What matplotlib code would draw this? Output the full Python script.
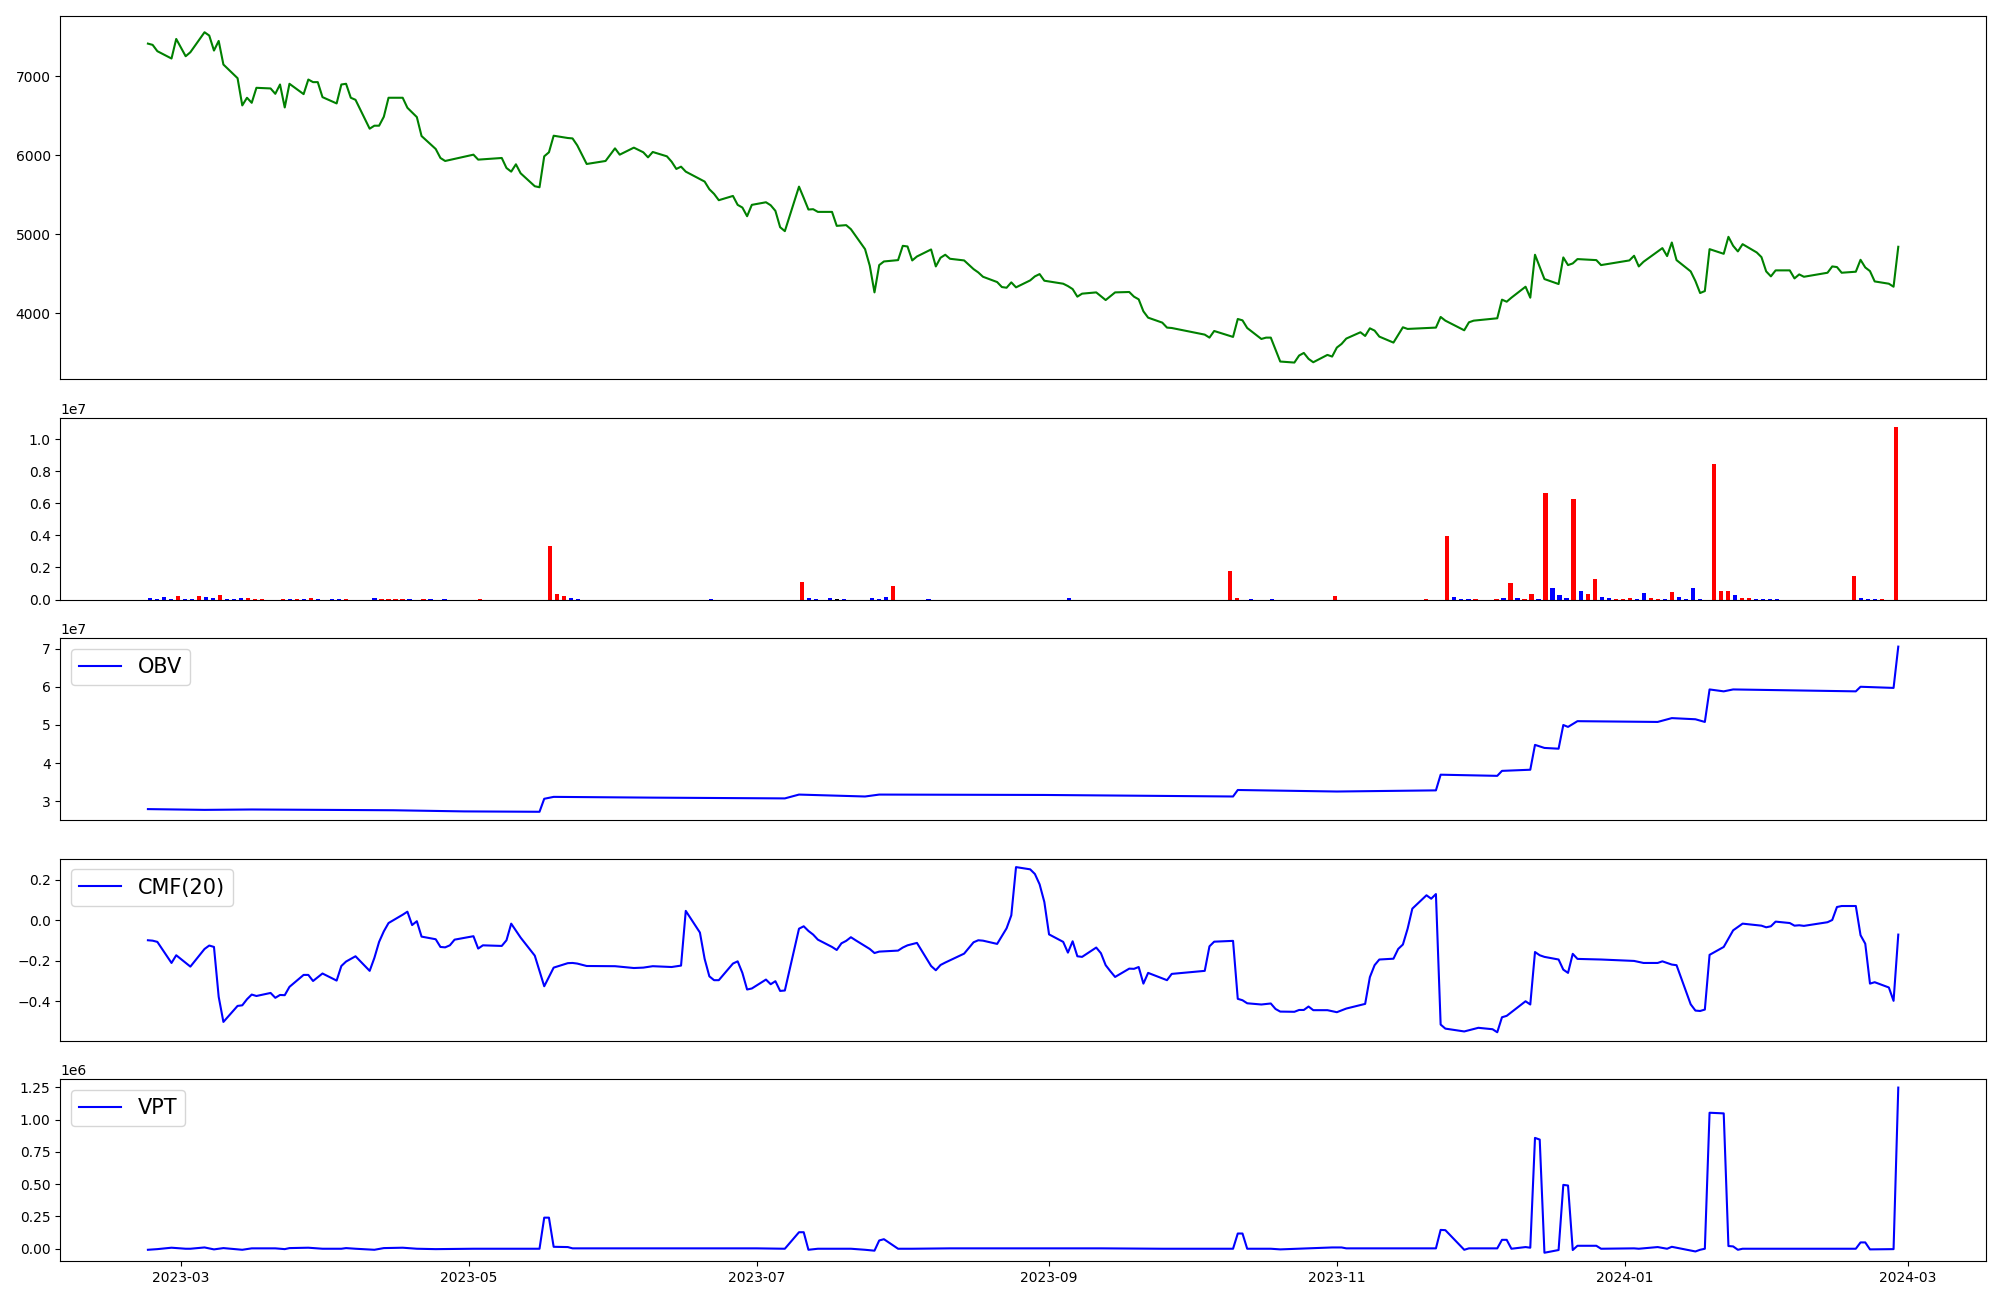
import matplotlib.pyplot as plt
import pandas as pd

base = pd.Timestamp('2023-03-01')

# closing price, calendar days counted from 2023-03-01
price_day = [-7, -6, -5, -2, -1, 1, 2, 5, 6, 7, 8, 9, 12, 13, 14, 15, 16, 19, 20, 21, 22, 23, 26, 27, 28, 29, 30,
             33, 34, 35, 36, 37, 40, 41, 42, 43, 44, 47, 48, 50, 51, 54, 55, 56, 62, 63, 68, 69, 70, 71, 72, 75, 76,
             77, 78, 79, 82, 83, 84, 86, 90, 92, 93, 96, 98, 99, 100, 103, 104, 105, 106, 107, 111, 112, 113, 114,
             117, 118, 119, 120, 121, 124, 125, 126, 127, 128, 131, 132, 133, 134, 135, 138, 139, 141, 142, 145,
             146, 147, 148, 149, 152, 153, 154, 155, 156, 159, 160, 161, 162, 163, 166, 167, 168, 169, 170, 173,
             174, 175, 176, 177, 180, 181, 182, 183, 187, 188, 189, 190, 191, 194, 196, 198, 201, 202, 203, 204,
             205, 208, 209, 210, 217, 218, 219, 223, 224, 225, 226, 229, 230, 231, 233, 236, 237, 238, 239, 240,
             243, 244, 245, 246, 247, 250, 251, 252, 253, 254, 257, 259, 260, 266, 267, 268, 272, 273, 274, 279,
             280, 281, 282, 285, 286, 287, 289, 292, 293, 294, 295, 296, 300, 301, 307, 308, 309, 310, 314, 315,
             316, 317, 320, 321, 322, 323, 324, 327, 328, 329, 330, 331, 334, 335, 336, 337, 338, 341, 342, 343,
             344, 349, 350, 351, 352, 355, 356, 357, 358, 359, 362, 363, 364]
price = [7416, 7400, 7320, 7227, 7475, 7256, 7307, 7560, 7518, 7328, 7450, 7151, 6978, 6633, 6730, 6666, 6856,
         6848, 6780, 6898, 6607, 6907, 6776, 6961, 6928, 6928, 6738, 6658, 6898, 6907, 6730, 6704, 6338, 6376,
         6376, 6489, 6730, 6730, 6603, 6485, 6245, 6081, 5967, 5929, 6009, 5946, 5967, 5840, 5794, 5887, 5773,
         5609, 5596, 5988, 6039, 6249, 6220, 6215, 6127, 5891, 5929, 6089, 6009, 6098, 6039, 5975, 6043, 5988,
         5920, 5828, 5857, 5794, 5668, 5571, 5512, 5432, 5486, 5373, 5339, 5229, 5373, 5406, 5368, 5297, 5090,
         5040, 5604, 5461, 5314, 5318, 5284, 5284, 5107, 5116, 5065, 4812, 4602, 4264, 4610, 4656, 4673, 4854,
         4846, 4669, 4719, 4808, 4593, 4703, 4741, 4690, 4669, 4614, 4559, 4517, 4462, 4395, 4332, 4323, 4391,
         4328, 4416, 4467, 4496, 4412, 4374, 4344, 4306, 4210, 4248, 4264, 4167, 4264, 4269, 4210, 4176, 4024,
         3944, 3881, 3818, 3813, 3729, 3691, 3775, 3700, 3927, 3910, 3813, 3674, 3691, 3691, 3388, 3375, 3464,
         3497, 3422, 3379, 3472, 3451, 3565, 3611, 3679, 3759, 3712, 3809, 3780, 3704, 3628, 3822, 3801, 3818,
         3953, 3906, 3784, 3885, 3906, 3936, 4172, 4146, 4197, 4336, 4197, 4741, 4433, 4370, 4707, 4610, 4631,
         4686, 4673, 4610, 4669, 4728, 4593, 4652, 4825, 4724, 4896, 4673, 4530, 4408, 4256, 4281, 4812, 4753,
         4968, 4854, 4783, 4875, 4770, 4711, 4530, 4467, 4543, 4543, 4441, 4492, 4462, 4513, 4593, 4585, 4513,
         4526, 4677, 4580, 4534, 4403, 4374, 4336, 4842]

# volume bars by trading-day index (0..249), only the non-zero ones
vol_pos = [0, 1, 2, 3, 4, 5, 6, 7, 8, 9, 10, 11, 12, 13, 14, 15, 16, 19, 20, 21, 22, 23, 24, 26, 27, 28, 32, 33,
           34, 35, 36, 37, 39, 40, 42, 47, 57, 58, 59, 60, 61, 80, 93, 94, 95, 97, 98, 99, 103, 104, 105, 106, 111,
           131, 154, 155, 157, 160, 169, 182, 185, 186, 187, 188, 189, 192, 193, 194, 195, 196, 197, 198, 199, 200,
           201, 202, 203, 204, 205, 206, 207, 208, 209, 210, 211, 212, 213, 214, 215, 216, 217, 218, 219, 220, 221,
           223, 224, 225, 226, 227, 228, 229, 230, 231, 232, 243, 244, 245, 246, 247, 249]
vol = [124e3, 62e3, 187e3, 62e3, 207e3, 62e3, 62e3, 207e3, 187e3, 83e3, 269e3, 62e3, 62e3, 124e3, 124e3, 62e3,
       62e3, 62e3, 62e3, 62e3, 62e3, 124e3, 62e3, 62e3, 62e3, 62e3, 124e3, 62e3, 62e3, 62e3, 62e3, 62e3, 62e3,
       62e3, 62e3, 62e3, 3.316e6, 332e3, 207e3, 124e3, 62e3, 62e3, 1.078e6, 124e3, 62e3, 124e3, 62e3, 62e3,
       124e3, 62e3, 187e3, 829e3, 62e3, 124e3, 1.762e6, 124e3, 62e3, 62e3, 249e3, 62e3, 3.938e6, 187e3, 62e3,
       62e3, 62e3, 62e3, 124e3, 1.016e6, 124e3, 62e3, 332e3, 62e3, 6.611e6, 705e3, 269e3, 124e3, 6.238e6, 518e3,
       332e3, 1.264e6, 187e3, 124e3, 62e3, 62e3, 124e3, 62e3, 394e3, 124e3, 62e3, 62e3, 456e3, 187e3, 62e3,
       705e3, 62e3, 8.414e6, 518e3, 518e3, 269e3, 124e3, 124e3, 62e3, 62e3, 62e3, 62e3, 1.451e6, 124e3, 62e3,
       62e3, 62e3, 10.777e6]
vol_col = ['b', 'b', 'b', 'b', 'r', 'b', 'b', 'r', 'b', 'b', 'r', 'b', 'b', 'b', 'r', 'r', 'r', 'r', 'b', 'r', 'b',
           'r', 'b', 'b', 'b', 'r', 'b', 'r', 'r', 'r', 'r', 'b', 'r', 'b', 'b', 'r', 'r', 'r', 'r', 'b', 'b', 'b',
           'r', 'b', 'b', 'b', 'k', 'b', 'b', 'b', 'b', 'r', 'b', 'b', 'r', 'r', 'b', 'b', 'r', 'r', 'r', 'b', 'b',
           'b', 'r', 'r', 'b', 'r', 'b', 'r', 'r', 'b', 'r', 'b', 'b', 'b', 'r', 'b', 'r', 'r', 'b', 'b', 'r', 'r',
           'r', 'b', 'b', 'r', 'r', 'b', 'r', 'b', 'b', 'b', 'b', 'r', 'r', 'r', 'b', 'r', 'r', 'b', 'b', 'b', 'b',
           'r', 'b', 'b', 'b', 'r', 'r']
colour = {'r': 'red', 'b': 'blue', 'k': 'black'}

# on-balance volume (units of 1e7)
obv_day = [-7, 5, 15, 30, 45, 60, 76, 77, 79, 100, 128, 131, 145, 148, 183, 223, 224, 245, 266, 267, 279, 280, 286,
           287, 289, 292, 293, 294, 296, 313, 316, 321, 323, 324, 327, 329, 355, 356, 363, 364]
obv = [2.80, 2.78, 2.79, 2.78, 2.77, 2.74, 2.73, 3.07, 3.12, 3.10, 3.08, 3.18, 3.13, 3.18, 3.17, 3.13, 3.30, 3.26,
       3.29, 3.70, 3.67, 3.80, 3.83, 4.48, 4.40, 4.38, 5.00, 4.95, 5.10, 5.08, 5.18, 5.15, 5.08, 5.93, 5.88, 5.93,
       5.88, 6.00, 5.97, 7.05]

# Chaikin money flow, 20 days
cmf_day = [-7, -6, -5, -2, -1, 2, 5, 6, 7, 8, 9, 12, 13, 14, 15, 16, 19, 20, 21, 22, 23, 26, 27, 28, 30, 33, 34, 35,
           37, 40, 41, 42, 43, 44, 47, 48, 49, 50, 51, 54, 55, 56, 57, 58, 62, 63, 64, 68, 69, 70, 72, 75, 77, 79,
           82, 83, 84, 86, 92, 96, 98, 100, 104, 106, 107, 110, 111, 112, 113, 114, 117, 118, 119, 120, 121, 124,
           125, 126, 127, 128, 131, 132, 133, 134, 135, 138, 139, 140, 141, 142, 143, 146, 147, 148, 152, 153, 154,
           156, 159, 160, 161, 162, 166, 168, 169, 170, 173, 174, 175, 176, 177, 180, 181, 182, 183, 184, 187, 188,
           189, 190, 191, 194, 195, 196, 197, 198, 201, 202, 203, 204, 205, 209, 210, 217, 218, 219, 223, 224, 225,
           226, 229, 231, 232, 233, 236, 237, 238, 239, 240, 243, 245, 247, 251, 252, 253, 254, 257, 258, 259, 260,
           261, 264, 265, 266, 267, 268, 272, 275, 278, 279, 280, 281, 285, 286, 287, 288, 289, 292, 293, 294, 295,
           296, 301, 308, 310, 313, 314, 316, 317, 320, 321, 322, 323, 324, 327, 329, 331, 335, 336, 337, 338, 341,
           342, 343, 344, 349, 350, 351, 352, 355, 356, 357, 358, 359, 362, 363, 364]
cmf = [-0.099, -0.101, -0.107, -0.211, -0.173, -0.229, -0.142, -0.125, -0.132, -0.378, -0.502, -0.423, -0.420,
       -0.390, -0.367, -0.374, -0.359, -0.383, -0.369, -0.370, -0.329, -0.270, -0.270, -0.300, -0.263, -0.298,
       -0.226, -0.204, -0.178, -0.250, -0.186, -0.107, -0.055, -0.014, 0.027, 0.042, -0.024, -0.005, -0.081,
       -0.094, -0.132, -0.134, -0.124, -0.096, -0.079, -0.140, -0.124, -0.127, -0.099, -0.017, -0.086, -0.175,
       -0.326, -0.234, -0.212, -0.211, -0.214, -0.226, -0.227, -0.236, -0.234, -0.227, -0.231, -0.224, 0.046,
       -0.061, -0.191, -0.277, -0.296, -0.296, -0.214, -0.203, -0.260, -0.342, -0.337, -0.293, -0.316, -0.301,
       -0.349, -0.347, -0.042, -0.030, -0.053, -0.071, -0.096, -0.132, -0.147, -0.114, -0.102, -0.084, -0.099,
       -0.142, -0.162, -0.155, -0.150, -0.135, -0.124, -0.112, -0.226, -0.247, -0.221, -0.209, -0.165, -0.109,
       -0.099, -0.101, -0.117, -0.079, -0.040, 0.024, 0.262, 0.251, 0.228, 0.177, 0.090, -0.070, -0.107, -0.160,
       -0.104, -0.178, -0.181, -0.135, -0.163, -0.222, -0.252, -0.280, -0.239, -0.240, -0.231, -0.313, -0.260,
       -0.296, -0.265, -0.250, -0.129, -0.106, -0.102, -0.388, -0.395, -0.410, -0.416, -0.411, -0.438, -0.451,
       -0.452, -0.443, -0.443, -0.426, -0.444, -0.444, -0.454, -0.436, -0.413, -0.281, -0.222, -0.194, -0.190,
       -0.142, -0.120, -0.042, 0.057, 0.123, 0.106, 0.129, -0.515, -0.535, -0.549, -0.531, -0.538, -0.553, -0.479,
       -0.472, -0.400, -0.416, -0.157, -0.173, -0.181, -0.194, -0.244, -0.260, -0.166, -0.191, -0.194, -0.201,
       -0.211, -0.211, -0.203, -0.219, -0.222, -0.415, -0.446, -0.448, -0.441, -0.171, -0.132, -0.050, -0.017,
       -0.027, -0.035, -0.030, -0.007, -0.014, -0.027, -0.025, -0.028, -0.010, 0.001, 0.065, 0.070, 0.070,
       -0.074, -0.116, -0.313, -0.306, -0.332, -0.398, -0.071]

# volume price trend
vpt_day = [-7, -5, -2, 1, 2, 5, 7, 9, 13, 15, 20, 22, 23, 27, 30, 34, 35, 37, 41, 43, 47, 50, 54, 62, 68, 76, 77,
           78, 79, 82, 83, 95, 109, 122, 128, 131, 132, 133, 135, 142, 145, 147, 148, 149, 152, 155, 163, 176, 185,
           195, 208, 223, 224, 225, 226, 231, 233, 244, 246, 247, 260, 266, 267, 268, 272, 273, 279, 280, 281, 282,
           285, 286, 287, 288, 289, 292, 293, 294, 295, 296, 300, 301, 308, 309, 313, 315, 316, 321, 322, 323, 324,
           327, 328, 329, 330, 331, 338, 355, 356, 357, 358, 363, 364]
vpt = [-8e3, -3e3, 8e3, 0, 0, 10e3, -5e3, 5e3, -8e3, 3e3, 3e3, -3e3, 5e3, 8e3, 0, 0, 5e3, 0, -8e3, 5e3, 8e3, 0,
       -3e3, 0, 0, 0, 241e3, 241e3, 15e3, 13e3, 3e3, 3e3, 3e3, 3e3, 0, 128e3, 128e3, -8e3, 0, 0, -8e3, -15e3,
       64e3, 74e3, 0, 0, 3e3, 3e3, 3e3, 3e3, 0, 0, 118e3, 118e3, 0, 0, -5e3, 10e3, 10e3, 3e3, 3e3, 3e3, 146e3,
       144e3, -8e3, 3e3, 3e3, 69e3, 69e3, 0, 13e3, 8e3, 859e3, 846e3, -31e3, -10e3, 495e3, 490e3, -10e3, 23e3,
       23e3, 0, 3e3, 0, 13e3, 0, 15e3, -21e3, -8e3, 0, 1.054e6, 1.049e6, 21e3, 18e3, -8e3, 0, 0, 0, 49e3, 49e3,
       -5e3, -3e3, 1.249e6]


def to_dates(days):
    return base + pd.to_timedelta(days, unit='D')


fig = plt.figure(figsize=(20, 13), dpi=100)
gs = fig.add_gridspec(5, 1, height_ratios=[2, 1, 1, 1, 1], left=0.0302, right=0.9929,
                      top=0.9879, bottom=0.0300, hspace=0.178)

ax1 = fig.add_subplot(gs[0])
ax1.plot(to_dates(price_day), price, color='green')
ax1.set_xticks([])

ax2 = fig.add_subplot(gs[1])
ax2.bar(vol_pos, vol, width=0.6, color=[colour[c] for c in vol_col])
ax2.set_xticks([])

ax3 = fig.add_subplot(gs[2])
ax3.plot(to_dates(obv_day), [v * 1e7 for v in obv], color='blue', label='OBV')
ax3.set_xticks([])
ax3.legend(loc='upper left', fontsize=15)

ax4 = fig.add_subplot(gs[3])
ax4.plot(to_dates(cmf_day), cmf, color='blue', label='CMF(20)')
ax4.set_xticks([])
ax4.legend(loc='upper left', fontsize=15)

ax5 = fig.add_subplot(gs[4])
ax5.plot(to_dates(vpt_day), vpt, color='blue', label='VPT')
ax5.legend(loc='upper left', fontsize=15)

plt.savefig('out.png')
